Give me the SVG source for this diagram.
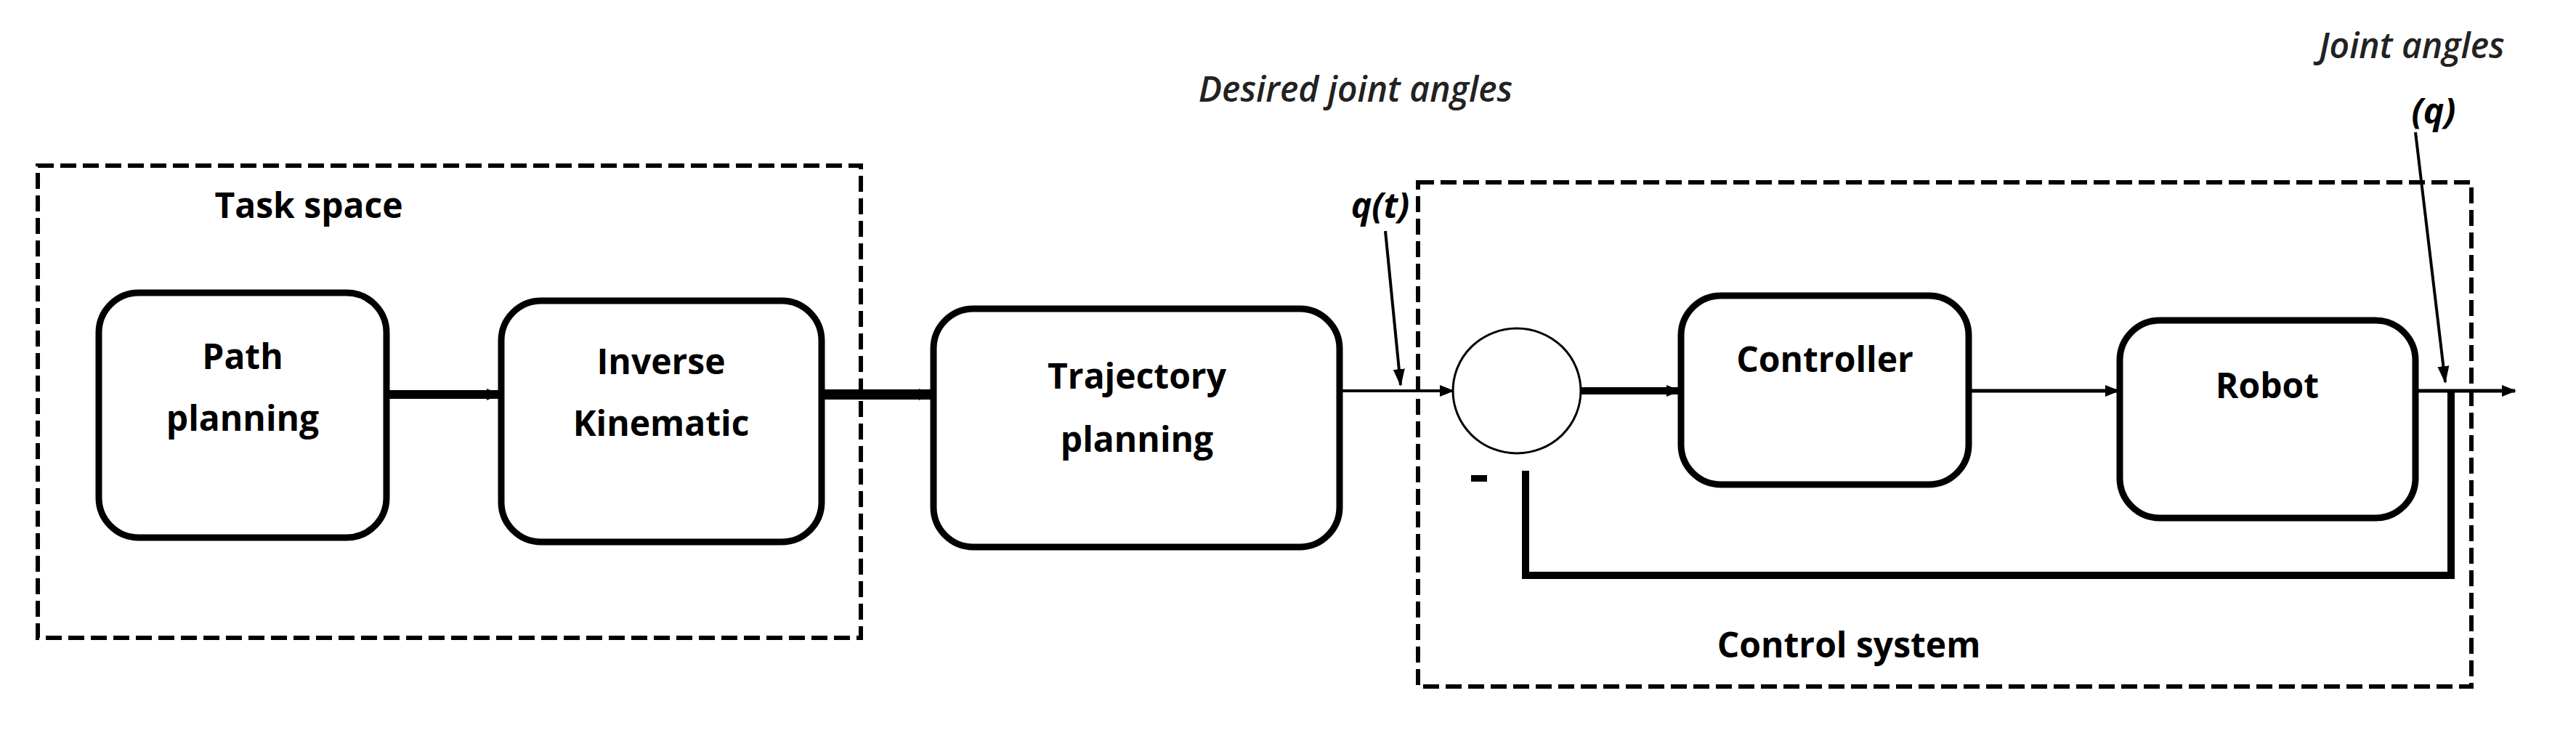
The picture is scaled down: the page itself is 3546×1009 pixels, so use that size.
<svg xmlns="http://www.w3.org/2000/svg" width="3546" height="1009" viewBox="0 0 3546 1009">
<defs>
<style>
.box{fill:#fff;stroke:#000;stroke-width:9}
.dash{fill:none;stroke:#000;stroke-width:6;stroke-dasharray:22 9}
.t{font-family:"Open Sans","Liberation Sans",sans-serif;font-weight:bold;font-size:48px;fill:#000;text-anchor:middle}
.i{font-style:italic}
.n{font-weight:600;fill:#222}
.ln{fill:none;stroke:#000;stroke-width:7}
.th{fill:none;stroke:#000;stroke-width:4}
</style>
<marker id="a" markerWidth="24" markerHeight="24" refX="22" refY="12" orient="auto" markerUnits="userSpaceOnUse"><path d="M0,4 L24,12 L0,20 z" fill="#000"/></marker>
<marker id="b" markerWidth="20" markerHeight="20" refX="18" refY="10" orient="auto" markerUnits="userSpaceOnUse"><path d="M0,2 L20,10 L0,18 z" fill="#000"/></marker>
</defs>
<g id="taskspace"><rect class="dash" x="52" y="228" width="1133" height="650"/><text class="t" x="425" y="300">Task space</text></g>
<g id="controlsystem"><rect class="dash" x="1952" y="251" width="1450" height="694"/><text class="t" x="2545" y="905">Control system</text></g>
<g id="path"><rect class="box" x="136" y="403" width="396" height="337" rx="55"/><text class="t" x="334" y="508">Path</text><text class="t" x="334" y="593">planning</text></g>
<g id="ik"><rect class="box" x="690" y="414" width="441" height="332" rx="55"/><text class="t" x="910" y="515">Inverse</text><text class="t" x="910" y="600">Kinematic</text></g>
<g id="traj"><rect class="box" x="1285" y="425" width="559" height="328" rx="55"/><text class="t" x="1565" y="535">Trajectory</text><text class="t" x="1565" y="622">planning</text></g>
<g id="sum"><ellipse cx="2088" cy="538" rx="88" ry="86" fill="#fff" stroke="#000" stroke-width="3"/></g>
<g id="controller"><rect class="box" x="2314" y="407" width="396" height="260" rx="55"/><text class="t" x="2512" y="512">Controller</text></g>
<g id="robot"><rect class="box" x="2918" y="441" width="407" height="272" rx="55"/><text class="t" x="3121" y="548">Robot</text></g>
<g id="labels">
<text class="t i n" x="1866" y="140">Desired joint angles</text>
<text class="t i" x="1900" y="300">q(t)</text>
<text class="t i n" x="3320" y="80">Joint angles</text>
<text class="t i" x="3350" y="170">(q)</text>
<rect x="2025" y="654" width="22" height="9" fill="#000"/>
</g>
<g id="connectors">
<line class="ln" x1="532" y1="543" x2="688" y2="543" style="stroke-width:12" marker-end="url(#b)"/>
<line class="ln" x1="1131" y1="543" x2="1283" y2="543" style="stroke-width:14" marker-end="url(#b)"/>
<line class="th" x1="1844" y1="538" x2="2000" y2="538" marker-end="url(#b)"/>
<line class="ln" x1="2176" y1="538" x2="2312" y2="538" style="stroke-width:10" marker-end="url(#b)"/>
<line class="th" x1="2710" y1="538" x2="2916" y2="538" style="stroke-width:5" marker-end="url(#b)"/>
<line class="th" x1="3325" y1="538" x2="3462" y2="538" style="stroke-width:5" marker-end="url(#b)"/>
<polyline class="ln" points="3374,538 3374,792 2100,792 2100,648" style="stroke-width:10"/>
<line class="th" x1="1907" y1="318" x2="1928" y2="530" marker-end="url(#a)"/>
<line class="th" x1="3325" y1="182" x2="3366" y2="526" marker-end="url(#a)"/>
</g>
</svg>
